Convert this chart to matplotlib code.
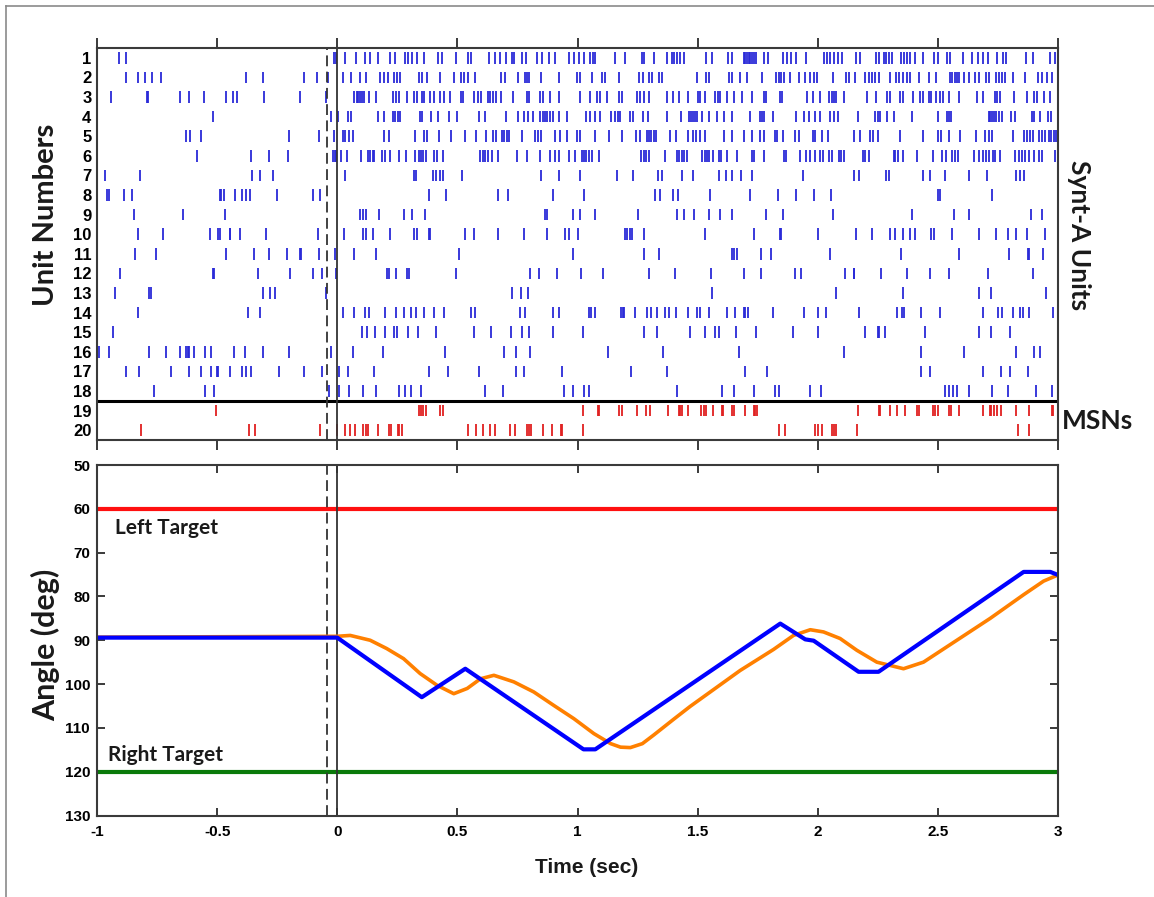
from matplotlib import pyplot as plt
from matplotlib import font_manager
from matplotlib.lines import Line2D

# pick fonts that exist in the sandbox
_names = {f.name for f in font_manager.fontManager.ttflist}
tick_font = "Liberation Sans" if "Liberation Sans" in _names else "DejaVu Sans"
label_font = "Lato" if "Lato" in _names else tick_font

# spike times (sec) per unit, units 1-18 are Synt-A, 19-20 are MSNs
unit_1 = [-0.91, -0.88, -0.012, -0.004, 0.033, 0.078, 0.114, 0.135, 0.168, 0.221, 0.242, 0.283, 0.294,
          0.311, 0.332, 0.362, 0.418, 0.436, 0.494, 0.543, 0.557, 0.630, 0.658, 0.679, 0.704, 0.727, 0.734,
          0.769, 0.785, 0.831, 0.852, 0.880, 0.907, 0.963, 0.984, 1.005, 1.025, 1.053, 1.064, 1.074, 1.157,
          1.199, 1.268, 1.275, 1.317, 1.372, 1.393, 1.400, 1.414, 1.428, 1.442, 1.536, 1.560, 1.626,
          1.643, 1.691, 1.698, 1.705, 1.712, 1.719, 1.726, 1.733, 1.744, 1.775, 1.791, 1.854, 1.872, 1.890,
          1.909, 1.952, 2.024, 2.038, 2.052, 2.069, 2.083, 2.101, 2.159, 2.177, 2.242, 2.253, 2.274, 2.284,
          2.295, 2.309, 2.346, 2.357, 2.371, 2.385, 2.406, 2.438, 2.482, 2.499, 2.538, 2.552, 2.603, 2.642,
          2.665, 2.686, 2.708, 2.746, 2.771, 2.785, 2.866, 2.894, 2.968, 2.988]
unit_2 = [-0.880, -0.830, -0.799, -0.769, -0.734, -0.379, -0.311, -0.140, -0.085, -0.039, 0.022, 0.058,
          0.093, 0.120, 0.179, 0.193, 0.213, 0.237, 0.248, 0.262, 0.339, 0.353, 0.373, 0.429, 0.484, 0.515,
          0.529, 0.543, 0.574, 0.681, 0.699, 0.751, 0.783, 0.790, 0.799, 0.849, 0.925, 0.998, 1.011, 1.060,
          1.101, 1.115, 1.171, 1.257, 1.271, 1.296, 1.312, 1.341, 1.351, 1.497, 1.536, 1.548, 1.631,
          1.643, 1.678, 1.705, 1.768, 1.826, 1.837, 1.848, 1.858, 1.886, 1.920, 1.948, 1.966, 1.983, 1.997,
          2.063, 2.119, 2.128, 2.156, 2.198, 2.212, 2.225, 2.239, 2.253, 2.302, 2.325, 2.339, 2.353, 2.371,
          2.385, 2.420, 2.461, 2.493, 2.549, 2.559, 2.570, 2.579, 2.590, 2.607, 2.628, 2.656, 2.672, 2.700,
          2.714, 2.741, 2.755, 2.766, 2.780, 2.812, 2.863, 2.915, 2.935, 2.956, 2.977]
unit_3 = [-0.941, -0.792, -0.788, -0.654, -0.616, -0.556, -0.462, -0.434, -0.418, -0.304, -0.157, -0.048,
          0.068, 0.082, 0.088, 0.095, 0.102, 0.112, 0.134, 0.162, 0.234, 0.245, 0.255, 0.289, 0.318, 0.332,
          0.353, 0.362, 0.384, 0.404, 0.429, 0.443, 0.468, 0.515, 0.522, 0.570, 0.584, 0.598, 0.626, 0.637,
          0.648, 0.662, 0.681, 0.730, 0.790, 0.799, 0.845, 0.855, 0.884, 0.921, 1.011, 1.053, 1.083, 1.094,
          1.122, 1.171, 1.187, 1.247, 1.261, 1.275, 1.296, 1.372, 1.396, 1.421, 1.458, 1.500, 1.511, 1.532,
          1.573, 1.583, 1.594, 1.622, 1.653, 1.685, 1.726, 1.775, 1.786, 1.844, 1.851, 1.955, 1.980, 2.008,
          2.045, 2.059, 2.066, 2.077, 2.108, 2.207, 2.242, 2.288, 2.299, 2.343, 2.354, 2.396, 2.424, 2.438,
          2.465, 2.472, 2.493, 2.507, 2.521, 2.545, 2.586, 2.662, 2.687, 2.736, 2.746, 2.757, 2.815, 2.870,
          2.901, 2.912, 2.943, 2.968]
unit_4 = [-0.519, -0.027, 0.005, 0.044, 0.058, 0.168, 0.195, 0.231, 0.241, 0.251, 0.262, 0.343, 0.353,
          0.391, 0.419, 0.464, 0.498, 0.588, 0.616, 0.702, 0.752, 0.776, 0.796, 0.814, 0.845, 0.855, 0.866,
          0.875, 0.887, 0.898, 0.925, 0.956, 1.036, 1.053, 1.071, 1.095, 1.141, 1.157, 1.167, 1.178, 1.217,
          1.231, 1.272, 1.292, 1.372, 1.430, 1.465, 1.472, 1.480, 1.490, 1.497, 1.518, 1.548, 1.580, 1.611,
          1.643, 1.716, 1.758, 1.768, 1.775, 1.812, 1.909, 1.944, 1.962, 1.990, 2.010, 2.052, 2.069, 2.083,
          2.167, 2.239, 2.250, 2.260, 2.288, 2.316, 2.392, 2.500, 2.538, 2.547, 2.556, 2.711, 2.718, 2.725,
          2.732, 2.741, 2.753, 2.766, 2.805, 2.819, 2.891, 2.901, 2.926, 2.958, 2.970]
unit_5 = [-0.628, -0.612, -0.566, -0.200, -0.078, -0.013, 0.022, 0.033, 0.047, 0.065, 0.193, 0.216, 0.325,
          0.362, 0.373, 0.425, 0.473, 0.530, 0.577, 0.620, 0.648, 0.662, 0.685, 0.692, 0.706, 0.713, 0.769,
          0.824, 0.834, 0.848, 0.905, 0.928, 0.956, 0.998, 1.011, 1.074, 1.133, 1.185, 1.244, 1.261, 1.289,
          1.298, 1.305, 1.317, 1.326, 1.386, 1.409, 1.462, 1.480, 1.494, 1.511, 1.532, 1.611, 1.643, 1.691,
          1.726, 1.761, 1.775, 1.821, 1.830, 1.855, 1.904, 1.923, 1.980, 1.990, 2.017, 2.041, 2.152, 2.177,
          2.219, 2.232, 2.250, 2.343, 2.440, 2.499, 2.513, 2.545, 2.593, 2.660, 2.697, 2.711, 2.725, 2.812,
          2.857, 2.870, 2.884, 2.898, 2.922, 2.933, 2.947, 2.961, 2.970, 2.982, 2.991]
unit_6 = [-0.584, -0.358, -0.286, -0.206, -0.018, -0.011, -0.004, 0.015, 0.040, 0.098, 0.127, 0.137, 0.148,
          0.155, 0.186, 0.197, 0.218, 0.255, 0.285, 0.325, 0.339, 0.348, 0.359, 0.371, 0.401, 0.415, 0.440,
          0.595, 0.605, 0.616, 0.627, 0.644, 0.668, 0.748, 0.790, 0.845, 0.884, 0.907, 0.925, 0.963, 0.991,
          1.018, 1.028, 1.036, 1.046, 1.060, 1.088, 1.264, 1.275, 1.286, 1.296, 1.365, 1.414, 1.423, 1.434,
          1.444, 1.455, 1.518, 1.529, 1.539, 1.548, 1.562, 1.587, 1.598, 1.624, 1.664, 1.726, 1.736, 1.775,
          1.858, 1.869, 1.925, 1.952, 1.966, 1.990, 2.010, 2.022, 2.045, 2.059, 2.090, 2.098, 2.108, 2.188,
          2.198, 2.212, 2.316, 2.323, 2.336, 2.354, 2.413, 2.479, 2.517, 2.535, 2.558, 2.572, 2.583, 2.649,
          2.673, 2.687, 2.701, 2.714, 2.728, 2.739, 2.759, 2.822, 2.836, 2.849, 2.863, 2.880, 2.901, 2.919,
          2.933, 2.986]
unit_7 = [-0.966, -0.823, -0.353, -0.321, -0.268, 0.033, 0.318, 0.329, 0.398, 0.412, 0.426, 0.439, 0.519,
          0.849, 0.925, 1.009, 1.164, 1.231, 1.337, 1.351, 1.434, 1.479, 1.587, 1.617, 1.643, 1.682, 1.726,
          1.937, 2.152, 2.170, 2.284, 2.298, 2.440, 2.468, 2.531, 2.628, 2.704, 2.826, 2.840, 2.857]
unit_8 = [-0.959, -0.949, -0.887, -0.855, -0.490, -0.483, -0.473, -0.427, -0.397, -0.379, -0.362, -0.251,
          -0.103, -0.071, 0.383, 0.454, 0.668, 0.709, 0.900, 1.025, 1.321, 1.344, 1.397, 1.418, 1.550, 1.716,
          1.833, 1.909, 1.986, 2.056, 2.500, 2.510, 2.725]
unit_9 = [-0.848, -0.640, -0.469, 0.093, 0.107, 0.120, 0.175, 0.276, 0.311, 0.366, 0.863, 0.873, 0.981,
          1.011, 1.071, 1.251, 1.414, 1.442, 1.483, 1.548, 1.594, 1.643, 1.786, 1.854, 2.062, 2.392, 2.568,
          2.630, 2.888, 2.933]
unit_10 = [-0.830, -0.727, -0.531, -0.497, -0.487, -0.448, -0.445, -0.404, -0.297, -0.082, 0.030, 0.109,
           0.120, 0.147, 0.221, 0.321, 0.332, 0.383, 0.387, 0.533, 0.568, 0.669, 0.776, 0.875, 0.949, 0.963,
           1.000, 1.199, 1.208, 1.217, 1.226, 1.275, 1.529, 1.733, 1.844, 1.848, 2.001, 2.159, 2.225, 2.299,
           2.320, 2.354, 2.385, 2.406, 2.472, 2.482, 2.558, 2.673, 2.741, 2.790, 2.826, 2.870, 2.947]
unit_11 = [-0.843, -0.753, -0.464, -0.346, -0.282, -0.210, -0.154, -0.150, -0.078, -0.009, 0.068, 0.161,
           0.505, 0.981, 1.275, 1.341, 1.643, 1.653, 1.664, 1.764, 1.805, 2.052, 2.346, 2.589, 2.798, 2.875,
           2.880, 2.937]
unit_12 = [-0.906, -0.519, -0.515, -0.328, -0.196, -0.103, -0.064, -0.006, 0.207, 0.216, 0.245, 0.290,
           0.299, 0.494, 0.803, 0.838, 0.914, 1.015, 1.106, 1.296, 1.407, 1.555, 1.691, 1.764, 1.906, 1.930,
           2.112, 2.149, 2.152, 2.264, 2.371, 2.468, 2.545, 2.707, 2.898]
unit_13 = [-0.927, -0.785, -0.774, -0.307, -0.279, -0.261, -0.048, 0.727, 0.766, 0.792, 1.559, 2.077, 2.354,
           2.673, 2.721, 2.950]
unit_14 = [-0.830, -0.373, -0.323, 0.026, 0.068, 0.116, 0.134, 0.200, 0.245, 0.276, 0.308, 0.329, 0.362,
           0.404, 0.443, 0.558, 0.575, 0.759, 0.783, 0.896, 0.921, 1.046, 1.056, 1.071, 1.181, 1.188, 1.194,
           1.240, 1.289, 1.305, 1.330, 1.365, 1.382, 1.411, 1.462, 1.497, 1.508, 1.548, 1.624, 1.657, 1.691,
           1.698, 1.708, 1.812, 1.944, 1.999, 2.035, 2.173, 2.330, 2.350, 2.360, 2.431, 2.507, 2.686, 2.750,
           2.766, 2.812, 2.840, 2.854, 2.880, 2.981]
unit_15 = [-0.935, 0.102, 0.123, 0.158, 0.200, 0.237, 0.248, 0.296, 0.336, 0.412, 0.570, 0.641, 0.723,
           0.769, 0.799, 0.896, 1.022, 1.275, 1.330, 1.469, 1.529, 1.571, 1.590, 1.661, 1.743, 1.895, 2.001,
           2.198, 2.250, 2.256, 2.278, 2.447, 2.673, 2.722, 2.801]
unit_16 = [-0.993, -0.952, -0.782, -0.712, -0.656, -0.628, -0.622, -0.615, -0.595, -0.550, -0.526, -0.429,
           -0.383, -0.311, -0.200, -0.027, 0.064, 0.190, 0.450, 0.692, 0.744, 0.803, 1.129, 1.354, 1.671,
           2.108, 2.431, 2.610, 2.826, 2.901, 2.923]
unit_17 = [-0.878, -0.827, -0.692, -0.616, -0.566, -0.526, -0.501, -0.497, -0.448, -0.397, -0.379, -0.358,
           -0.244, -0.140, -0.064, 0.008, 0.044, 0.151, 0.383, 0.459, 0.591, 0.744, 0.776, 0.935, 1.224,
           1.372, 1.698, 1.789, 2.431, 2.468, 2.686, 2.764, 2.801, 2.877]
unit_18 = [-0.762, -0.550, -0.512, -0.036, 0.008, 0.050, 0.109, 0.161, 0.259, 0.283, 0.308, 0.348, 0.616,
           0.688, 0.945, 0.980, 1.029, 1.046, 1.416, 1.601, 1.653, 1.733, 1.823, 1.837, 1.969, 2.015, 2.528,
           2.545, 2.563, 2.579, 2.630, 2.725, 2.791, 2.909, 2.974]
unit_19 = [-0.504, 0.339, 0.348, 0.359, 0.369, 0.429, 0.439, 1.022, 1.085, 1.088, 1.174, 1.185, 1.247,
           1.286, 1.300, 1.376, 1.421, 1.428, 1.434, 1.458, 1.513, 1.525, 1.536, 1.566, 1.601, 1.605, 1.643,
           1.653, 1.698, 1.733, 1.740, 1.747, 2.167, 2.256, 2.260, 2.302, 2.330, 2.364, 2.413, 2.422, 2.479,
           2.489, 2.499, 2.547, 2.554, 2.586, 2.686, 2.715, 2.721, 2.732, 2.746, 2.762, 2.826, 2.881, 2.974,
           2.979]
unit_20 = [-0.817, -0.369, -0.344, -0.071, 0.001, 0.033, 0.051, 0.075, 0.109, 0.120, 0.127, 0.168, 0.216,
           0.224, 0.251, 0.259, 0.269, 0.544, 0.579, 0.606, 0.634, 0.658, 0.717, 0.738, 0.790, 0.799, 0.806,
           0.855, 0.893, 0.931, 0.935, 1.022, 1.837, 1.865, 1.990, 2.000, 2.017, 2.059, 2.069, 2.077, 2.163,
           2.832, 2.881]

spikes = [unit_1, unit_2, unit_3, unit_4, unit_5, unit_6, unit_7, unit_8, unit_9, unit_10,
          unit_11, unit_12, unit_13, unit_14, unit_15, unit_16, unit_17, unit_18, unit_19, unit_20]
unit_labels = [str(i) for i in range(1, 21)]

# joystick angle (deg)
blue_t = [-1, 0, 0.352, 0.533, 1.025, 1.074, 1.844, 1.948, 1.983, 2.170, 2.253, 2.857, 2.968, 3.0]
blue_a = [89.4, 89.4, 103.0, 96.5, 114.9, 114.9, 86.2, 89.8, 90.1, 97.2, 97.2, 74.4, 74.4, 75.1]
orange_t = [-1, 0.0, 0.054, 0.137, 0.206, 0.276, 0.345, 0.416, 0.485, 0.541, 0.596, 0.652, 0.735, 0.818,
            0.902, 0.985, 1.068, 1.138, 1.179, 1.22, 1.27, 1.318, 1.401, 1.469, 1.677, 1.816, 1.899, 1.969,
            2.024, 2.093, 2.163, 2.246, 2.357, 2.440, 2.579, 2.718, 2.857, 2.940, 3.0]
orange_a = [89.3, 89.1, 88.9, 90.0, 91.9, 94.2, 97.6, 100.3, 102.2, 101.0, 98.8, 98.0, 99.5, 101.8,
            104.9, 107.9, 111.3, 113.6, 114.4, 114.5, 113.6, 111.6, 108.0, 105.1, 96.9, 92.1, 88.9, 87.6,
            88.1, 89.6, 92.3, 95.0, 96.5, 95.0, 90.0, 85.0, 79.6, 76.5, 75.1]
left_target = 60
right_target = 120

x_ticks = [-1, -0.5, 0, 0.5, 1, 1.5, 2, 2.5, 3]
x_tick_labels = ["-1", "-0.5", "0", "0.5", "1", "1.5", "2", "2.5", "3"]
y_ticks = [50, 60, 70, 80, 90, 100, 110, 120, 130]

W, H = 1154, 897
fig = plt.figure(figsize=(W / 100, H / 100), dpi=100)
spine_c = "#3a3a3a"

# ---------------- raster ----------------
ax1 = fig.add_axes([97 / W, 1 - 440 / H, 961 / W, 392 / H])
colors = ["#2a2ad8"] * 18 + ["#e02020"] * 2
ax1.eventplot(spikes, lineoffsets=list(range(1, 21)), linelengths=0.6,
              colors=colors, linewidths=1.3)
ax1.set_xlim(-1, 3)
ax1.set_ylim(20.5, 0.5)
ax1.set_yticks(range(1, 21))
ax1.set_yticklabels(unit_labels, fontsize=12, fontweight="bold", family=tick_font)
ax1.tick_params(axis="y", length=0, pad=4)
ax1.set_xticks(x_ticks)
ax1.tick_params(axis="x", direction="out", top=True, bottom=True, labelbottom=False,
                length=7, width=1.4, color=spine_c)
ax1.axhline(18.5, color="black", lw=2.2)
ax1.axvline(0, color="#333333", lw=1.3)
ax1.axvline(-0.043, color="#333333", lw=1.3, dashes=(6, 3))
for s in ax1.spines.values():
    s.set_color(spine_c)
    s.set_linewidth(1.5)

# ---------------- angle ----------------
ax2 = fig.add_axes([97 / W, 1 - 815.5 / H, 961 / W, 350.5 / H])
ax2.axhline(left_target, color="#ff1010", lw=3)
ax2.axhline(right_target, color="#0a7a0a", lw=3)
ax2.axvline(0, color="#333333", lw=1.3)
ax2.axvline(-0.043, color="#333333", lw=1.3, dashes=(6, 3))
ax2.plot(orange_t, orange_a, color="#ff8000", lw=2.6, solid_joinstyle="round")
ax2.plot(blue_t, blue_a, color="#0000ff", lw=3.0, solid_joinstyle="round")
ax2.set_xlim(-1, 3)
ax2.set_ylim(130, 50)
ax2.set_xticks(x_ticks)
ax2.set_xticklabels(x_tick_labels, fontsize=11, fontweight="bold", family=tick_font)
ax2.set_yticks(y_ticks)
ax2.set_yticklabels([str(v) for v in y_ticks], fontsize=11, fontweight="bold", family=tick_font)
ax2.tick_params(direction="in", top=True, right=True, length=6, width=1.4, color=spine_c)
ax2.tick_params(axis="x", pad=7)
ax2.tick_params(axis="y", pad=5)
for s in ax2.spines.values():
    s.set_color(spine_c)
    s.set_linewidth(1.5)

ax2.text(-0.924, 64.4, "Left Target", fontsize=15, fontweight="bold", family=label_font,
         color="#1a1a1a", va="center", ha="left")
ax2.text(-0.953, 116.1, "Right Target", fontsize=15, fontweight="bold", family=label_font,
         color="#1a1a1a", va="center", ha="left")

# axis titles
fig.text(46 / W, 1 - 215 / H, "Unit Numbers", rotation=90, fontsize=21, fontweight="bold",
         family=label_font, ha="center", va="center", color="#1a1a1a")
fig.text(46 / W, 1 - 645 / H, "Angle (deg)", rotation=90, fontsize=22, fontweight="bold",
         family=label_font, ha="center", va="center", color="#1a1a1a")
fig.text(1079 / W, 1 - 235 / H, "Synt-A Units", rotation=270, fontsize=19, fontweight="bold",
         family=label_font, ha="center", va="center", color="#1a1a1a")
fig.text(1062 / W, 1 - 421 / H, "MSNs", fontsize=19, fontweight="bold",
         family=label_font, ha="left", va="center", color="#1a1a1a")
fig.text(587 / W, 1 - 867 / H, "Time (sec)", fontsize=15, fontweight="bold",
         family=tick_font, ha="center", va="center", color="#1a1a1a")

# thin frame on the left and top edges
fig.add_artist(Line2D([6 / W, 6 / W], [0, 1 - 6 / H], transform=fig.transFigure,
                      color="#8a8a8a", lw=1.2))
fig.add_artist(Line2D([6 / W, 1], [1 - 6 / H, 1 - 6 / H], transform=fig.transFigure,
                      color="#8a8a8a", lw=1.2))

fig.savefig("out.png", dpi=100)
